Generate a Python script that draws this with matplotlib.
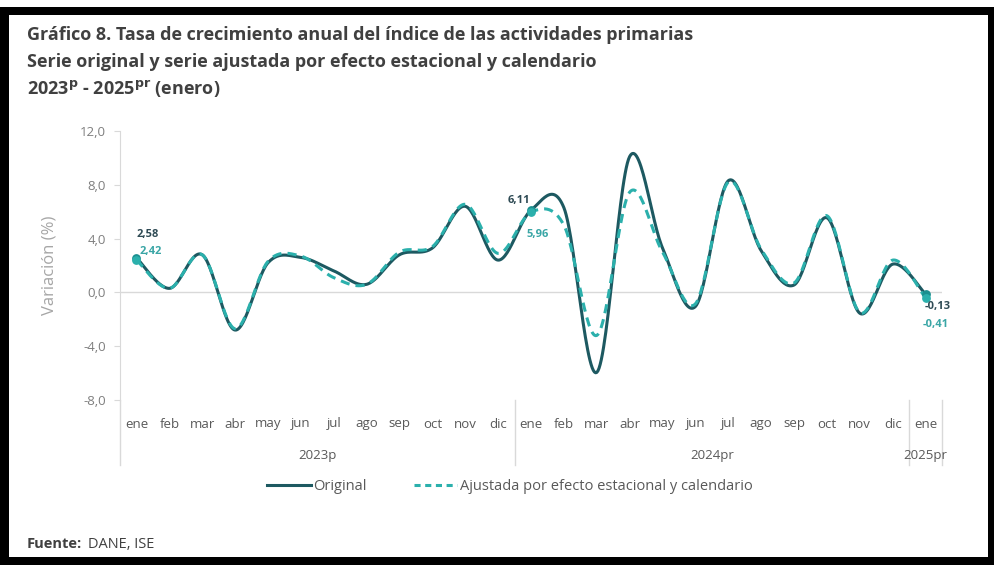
import numpy as np
import matplotlib
matplotlib.use('Agg')
import matplotlib.pyplot as plt
from matplotlib.patches import Rectangle
from matplotlib.lines import Line2D
import matplotlib.transforms as mtransforms

plt.rcParams['font.family'] = ['Open Sans', 'DejaVu Sans']

months = ['ene', 'feb', 'mar', 'abr', 'may', 'jun', 'jul', 'ago', 'sep', 'oct', 'nov', 'dic'] * 2 + ['ene']
years = ['2023p', '2024pr', '2025pr']
original = [2.58, 0.3, 2.8, -2.8, 2.2, 2.6, 1.6, 0.6, 2.8, 3.3, 6.4, 2.4,
            6.11, 6.3, -5.95, 10.1, 3.3, -1.05, 8.3, 3.1, 0.55, 5.55, -1.55, 2.1, -0.13]
ajustada = [2.42, 0.3, 2.8, -2.7, 2.3, 2.7, 1.1, 0.6, 3.0, 3.4, 6.55, 2.9,
            5.96, 5.0, -3.2, 7.45, 3.0, -0.85, 8.2, 3.2, 0.7, 5.7, -1.5, 2.4, -0.41]

DARK = '#1d5961'
TEAL = '#2bb0ac'
GRAY = '#7f7f7f'


def smooth(y, n=30):
    # Excel-style smoothed line (Catmull-Rom through the points)
    y = np.asarray(y, float)
    x = np.arange(len(y), dtype=float)
    xp = np.concatenate([[x[0]], x, [x[-1]]])
    yp = np.concatenate([[y[0]], y, [y[-1]]])
    xs, ys = [], []
    t = np.linspace(0, 1, n)
    for i in range(1, len(xp) - 2):
        p0, p1, p2, p3 = [np.array([xp[j], yp[j]]) for j in (i - 1, i, i + 1, i + 2)]
        c1 = p1 + (p2 - p0) / 6
        c2 = p2 - (p3 - p1) / 6
        b = ((1 - t) ** 3)[:, None] * p1 + (3 * (1 - t) ** 2 * t)[:, None] * c1 \
            + (3 * (1 - t) * t ** 2)[:, None] * c2 + (t ** 3)[:, None] * p2
        xs.append(b[:, 0]); ys.append(b[:, 1])
    return np.concatenate(xs), np.concatenate(ys)


fig = plt.figure(figsize=(9.94, 5.65), dpi=100, facecolor='black')
fig.add_artist(Rectangle((9 / 994, 8 / 565), 979 / 994, 542 / 565,
                         transform=fig.transFigure, facecolor='white', edgecolor='none', zorder=-10))
fig.add_artist(Rectangle((0, 558 / 565), 1, 7 / 565,
                         transform=fig.transFigure, facecolor='white', edgecolor='none', zorder=-10))

ax = fig.add_axes([120 / 994, 1 - 400 / 565, 822 / 994, 269 / 565])
ax.set_xlim(-0.5, 24.5)
ax.set_ylim(-8, 12)

x = np.arange(len(original))
ax.axhline(0, color='#d9d9d9', lw=1, zorder=1)
xs, ys = smooth(original)
ax.plot(xs, ys, color=DARK, lw=2.2, zorder=3)
xs, ys = smooth(ajustada)
ax.plot(xs, ys, color=TEAL, lw=2.2, ls=(0, (3, 2)), zorder=4)

marked = [0, 12, 24]
ax.scatter(x[marked], [original[i] for i in marked], s=28, color='#1b8f8f', zorder=5)
ax.scatter(x[marked], [ajustada[i] for i in marked], s=28, color=TEAL, zorder=5)

fmt = lambda v: f'{v:.2f}'.replace('.', ',')
offs_o = [(11, 23), (-12, 10), (12, -12)]
offs_a = [(14, 8), (7, -22), (10, -27)]
for k, i in enumerate(marked):
    ax.annotate(fmt(original[i]), (x[i], original[i]), xytext=offs_o[k], textcoords='offset pixels',
                ha='center', va='center', fontsize=8, fontweight='bold', color='#2f4b55', zorder=6)
    ax.annotate(fmt(ajustada[i]), (x[i], ajustada[i]), xytext=offs_a[k], textcoords='offset pixels',
                ha='center', va='center', fontsize=8, fontweight='bold', color='#3aa6a6', zorder=6)

for s in ['top', 'right', 'bottom']:
    ax.spines[s].set_visible(False)
ax.spines['left'].set_color('#d9d9d9')
ax.set_yticks(np.arange(-8, 13, 4))
ax.set_yticklabels([f'{v:.1f}'.replace('.', ',') for v in np.arange(-8, 13, 4)])
ax.tick_params(axis='y', colors='#d9d9d9', labelcolor=GRAY, labelsize=9.5, length=4, pad=6)
ax.set_xticks([])
ax.set_ylabel('Variación (%)', color='#a6a6a6', fontsize=12, labelpad=16)

trans = mtransforms.blended_transform_factory(ax.transData, ax.transAxes)
ybot = (400 - 465) / 269
for xv in [-0.5, 11.5, 23.5, 24.5]:
    ax.add_line(Line2D([xv, xv], [0, ybot], transform=trans, color='#d9d9d9', lw=1, clip_on=False))
ymon = (400 - 424) / 269
for i, m in enumerate(months):
    ax.text(i, ymon, m, transform=trans, ha='center', va='center', fontsize=9.5, color='#595959')
yyr = (400 - 456) / 269
for xc, yr in zip([5.5, 17.5, 24], years):
    ax.text(xc, yyr, yr, transform=trans, ha='center', va='center', fontsize=9.5, color='#595959')

handles = [Line2D([], [], color=DARK, lw=2.2),
           Line2D([], [], color=TEAL, lw=2.2, ls=(0, (2, 1.5)))]
fig.legend(handles, ['Original', 'Ajustada por efecto estacional y calendario'], ncol=2,
           loc='center', bbox_to_anchor=(510 / 994, 1 - 487 / 565), frameon=False,
           fontsize=10.5, labelcolor='#595959', handlelength=3, handletextpad=0.2, columnspacing=3.2)

title = ['Gráfico 8. Tasa de crecimiento anual del índice de las actividades primarias',
         'Serie original y serie ajustada por efecto estacional y calendario']
for k, line in enumerate(title):
    fig.text(27 / 994, 1 - (35 + 27 * k) / 565, line, fontsize=13, fontweight='bold',
             color='#404040', va='center')
fig.text(27 / 994, 1 - 89 / 565, r'2023$^{\mathbf{p}}$ - 2025$^{\mathbf{pr}}$ (enero)', fontsize=13,
         fontweight='bold', color='#404040', va='center')
fig.text(27 / 994, 1 - 544 / 565, 'Fuente:', fontsize=10.5, fontweight='bold', color='#404040', va='center')
fig.text(88 / 994, 1 - 544 / 565, 'DANE, ISE', fontsize=10.5, color='#404040', va='center')

fig.savefig('out.png', dpi=100, facecolor=fig.get_facecolor())
